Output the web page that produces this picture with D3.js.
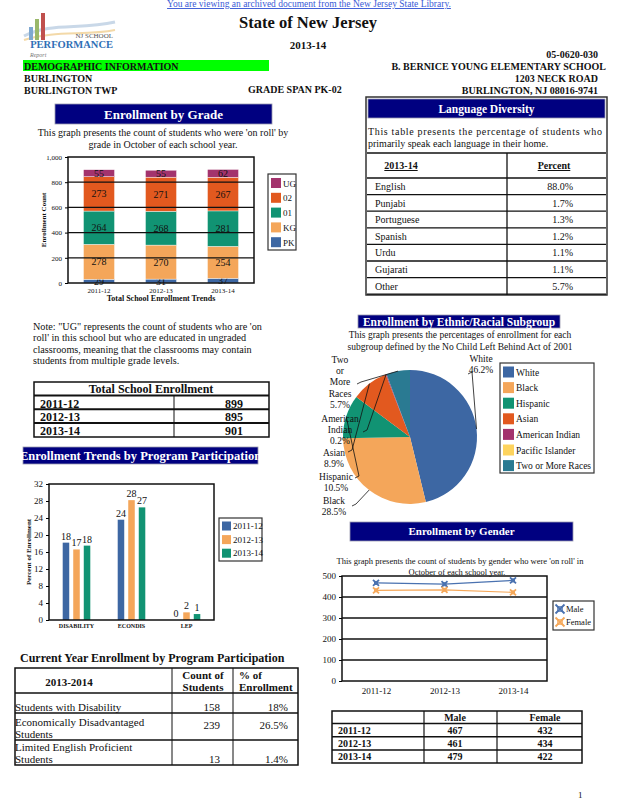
<!DOCTYPE html>
<html><head><meta charset="utf-8">
<script src="https://cdn.jsdelivr.net/npm/d3@7"></script>
<style>
body{margin:0;background:#fff}
svg{display:block}
text{font-family:"Liberation Serif","Times New Roman",serif;fill:#111}
</style></head>
<body><svg id="c" width="618" height="800"></svg>
<script>
// ---------- DATA ----------
const years = ["2011-12","2012-13","2013-14"];
const gradeKeys = ["PK","KG","01","02","UG"];
const gradePK = [29,31,37];
const gradeKG = [278,270,254];
const grade01 = [264,268,281];
const grade02 = [273,271,267];
const gradeUG = [55,55,62];
const gradeTicks = [0,200,400,600,800,1000];

const languages = ["English","Punjabi","Portuguese","Spanish","Urdu","Gujarati","Other"];
const languagePct = ["88.0%","1.7%","1.3%","1.2%","1.1%","1.1%","5.7%"];

const totalEnrollment = [899,895,901];

const programCats = ["DISABILITY","ECONDIS","LEP"];
const program2011 = [18.2,23.6,0];
const program2012 = [16.6,28.2,1.8];
const program2013 = [17.5,26.5,1.4];
const programTicks = [0,4,8,12,16,20,24,28,32];

const currentRows = ["Students with Disability","Economically Disadvantaged Students","Limited English Proficient Students"];
const currentCount = [158,239,13];
const currentPct = ["18%","26.5%","1.4%"];

const ethnicGroups = ["White","Black","Hispanic","Asian","American Indian","Pacific Islander","Two or More Races"];
const ethnicPct = [46.2,28.5,10.5,8.9,0.2,0,5.7];

const genderMale = [467,461,479];
const genderFemale = [432,434,422];
const genderTicks = [0,100,200,300,400,500];

// ---------- HELPERS ----------
const svg = d3.select("#c");
const SERIF = "Liberation Serif";
function txt(x,y,s,o={}){
  const t = svg.append("text").attr("x",x).attr("y",y).text(s)
    .attr("font-size",o.size||10).attr("text-anchor",o.anchor||"start")
    .attr("font-family",o.family||SERIF);
  if(o.bold) t.attr("font-weight","bold");
  if(o.fill) t.style("fill",o.fill);
  if(o.deco) t.attr("text-decoration",o.deco);
  if(o.italic) t.attr("font-style","italic");
  if(o.len) t.attr("textLength",o.len).attr("lengthAdjust","spacing");
  return t;
}
function banner(x,y,w,h,title,size){
  svg.append("rect").attr("x",x).attr("y",y).attr("width",w).attr("height",h)
    .attr("fill","#000080").attr("stroke","#9a9ab0").attr("stroke-width",0.8);
  txt(x+w/2,y+h/2+size*0.36,title,{size:size,bold:true,anchor:"middle",fill:"#fff"});
}
function line(x1,y1,x2,y2,w=1,c="#111"){
  svg.append("line").attr("x1",x1).attr("y1",y1).attr("x2",x2).attr("y2",y2)
    .attr("stroke",c).attr("stroke-width",w);
}

// ---------- HEADER ----------
txt(309,7,"You are viewing an archived document from the New Jersey State Library.",{size:9.5,anchor:"middle",fill:"#3a5ad6",deco:"underline",family:"Liberation Sans"});
// logo
const logo = svg.append("g");
logo.append("path").attr("d","M24,36 C50,22 80,30 115,22").attr("fill","none").attr("stroke","#c9d8e8").attr("stroke-width",3);
logo.append("path").attr("d","M24,40 C55,30 85,36 115,30").attr("fill","none").attr("stroke","#f3d9a8").attr("stroke-width",2);
logo.append("rect").attr("x",29).attr("y",27).attr("width",4).attr("height",13).attr("fill","#7fa8d0");
logo.append("rect").attr("x",35).attr("y",19).attr("width",4).attr("height",21).attr("fill","#9ab86a");
logo.append("rect").attr("x",41).attr("y",13).attr("width",4).attr("height",27).attr("fill","#c0504d");
txt(113,38,"NJ SCHOOL",{size:7,anchor:"end",fill:"#555",family:"Liberation Sans"});
txt(113,48,"PERFORMANCE",{size:10.5,anchor:"end",bold:true,fill:"#2f6fb6",family:"Liberation Sans"});
txt(30,57,"Report",{size:6,italic:true,fill:"#777"});

txt(308,28,"State of New Jersey",{size:16.5,bold:true,anchor:"middle"});
txt(308,49,"2013-14",{size:11,bold:true,anchor:"middle"});
txt(598,58,"05-0620-030",{size:10,bold:true,anchor:"end"});
svg.append("rect").attr("x",23).attr("y",60).attr("width",246).attr("height",11).attr("fill","#00ff00");
txt(24,70,"DEMOGRAPHIC INFORMATION",{size:10,bold:true});
txt(606,70,"B. BERNICE YOUNG ELEMENTARY SCHOOL",{size:10,bold:true,anchor:"end"});
txt(24,82,"BURLINGTON",{size:10,bold:true});
txt(598,82,"1203 NECK ROAD",{size:10,bold:true,anchor:"end"});
txt(24,94,"BURLINGTON TWP",{size:10,bold:true});
txt(248,93,"GRADE SPAN PK-02",{size:10,bold:true});
txt(598,94,"BURLINGTON, NJ 08016-9741",{size:10,bold:true,anchor:"end"});

// ---------- ENROLLMENT BY GRADE ----------
banner(55,104,217,20,"Enrollment by Grade",13);
txt(163,136,"This graph presents the count of students who were 'on roll' by",{size:10,anchor:"middle"});
txt(163,148,"grade in October of each school year.",{size:10,anchor:"middle"});
const gradeColors = {PK:"#3d67a3",KG:"#f4a65a","01":"#119373","02":"#e2591f",UG:"#a3336d"};
const gx = d3.scaleBand().domain(years).range([68,254]).paddingInner(0.5).paddingOuter(0.25);
const gy = d3.scaleLinear().domain([0,1000]).range([283,157]);
const gradeRows = years.map((y,i)=>({year:y,PK:gradePK[i],KG:gradeKG[i],"01":grade01[i],"02":grade02[i],UG:gradeUG[i]}));
const stacked = d3.stack().keys(gradeKeys)(gradeRows);
const gg = svg.append("g");
gradeTicks.slice(1,-1).forEach(t=>line(68,gy(t),254,gy(t),1.3));
stacked.forEach(layer=>{
  gg.selectAll(null).data(layer).enter().append("rect")
    .attr("x",d=>gx(d.data.year)).attr("width",gx.bandwidth())
    .attr("y",d=>gy(d[1])).attr("height",d=>gy(d[0])-gy(d[1]))
    .attr("fill",gradeColors[layer.key]).attr("stroke","#fff").attr("stroke-width",0.4);
  gg.selectAll(null).data(layer).enter().append("text")
    .attr("x",d=>gx(d.data.year)+gx.bandwidth()/2).attr("y",d=>(gy(d[0])+gy(d[1]))/2+3.5)
    .attr("text-anchor","middle").attr("font-size",10).attr("font-family",SERIF).text(d=>d[1]-d[0]);
});
svg.append("rect").attr("x",68).attr("y",157).attr("width",186).attr("height",126).attr("fill","none").attr("stroke","#111").attr("stroke-width",1.5);
const gAxis = svg.append("g").attr("transform","translate(68,0)")
  .call(d3.axisLeft(gy).tickValues(gradeTicks).tickSize(3));
gAxis.select(".domain").remove();
gAxis.selectAll("text").attr("font-size",7).attr("font-family",SERIF);
const gxAxis = svg.append("g").attr("transform","translate(0,283)")
  .call(d3.axisBottom(gx).tickSize(0).tickPadding(5));
gxAxis.select(".domain").remove();
gxAxis.selectAll("text").attr("font-size",7).attr("font-family",SERIF);
txt(161,301,"Total School Enrollment Trends",{size:8,bold:true,anchor:"middle"});
txt(0,0,"Enrollment Count",{size:7,bold:true,anchor:"middle"}).attr("transform","translate(46,220) rotate(-90)");
// legend
svg.append("rect").attr("x",268).attr("y",174).attr("width",28).attr("height",76).attr("fill","#fff").attr("stroke","#333").attr("stroke-width",1.2);
gradeKeys.slice().reverse().forEach((k,i)=>{
  const cy = 183+i*14.8;
  svg.append("rect").attr("x",271).attr("y",cy-5).attr("width",10).attr("height",10).attr("fill",gradeColors[k]);
  txt(283,cy+3.5,k,{size:9});
});

// ---------- LANGUAGE DIVERSITY ----------
svg.append("rect").attr("x",366).attr("y",97).attr("width",241).attr("height",198).attr("fill","#fff").attr("stroke","#333").attr("stroke-width",1.5);
banner(368,99,237,19,"Language Diversity",11.5);
txt(368,135,"This table presents the percentage of students who",{size:10,len:234});
txt(368,147,"primarily speak each language in their home.",{size:10});
line(367,153,606,153,1.3);
line(507,153,507,295,1.3);
txt(401,169,"2013-14",{size:10,bold:true,anchor:"middle",deco:"underline"});
txt(554,169,"Percent",{size:10,bold:true,anchor:"middle",deco:"underline"});
const langRowTop = 178, langRowH = 16.6;
line(367,langRowTop,606,langRowTop,1.5);
languages.forEach((l,i)=>{
  const y0 = langRowTop+i*langRowH;
  txt(375,y0+12,l,{size:10});
  txt(573,y0+12,languagePct[i],{size:10,anchor:"end"});
  line(367,y0+langRowH,606,y0+langRowH,1.3);
});

// ---------- NOTE + TOTAL ENROLLMENT ----------
["Note: \"UG\" represents the count of students who are 'on","roll' in this school but who are educated in ungraded","classrooms, meaning that the classrooms may contain","students from multiple grade levels."]
  .forEach((s,i)=>txt(33,330+i*11.3,s,{size:10.2}));
svg.append("rect").attr("x",34).attr("y",382).attr("width",235).attr("height",55).attr("fill","none").attr("stroke","#111").attr("stroke-width",1.5);
txt(151,393,"Total School Enrollment",{size:12,bold:true,anchor:"middle"});
line(34,395.5,269,395.5,2);
years.forEach((y,i)=>{
  const y0 = 395.5+i*13.8;
  txt(40,y0+12,y,{size:12,bold:true});
  txt(243,y0+12,totalEnrollment[i],{size:12,bold:true,anchor:"end"});
  if(i<2) line(34,y0+13.8,269,y0+13.8,2);
});
line(174,395.5,174,437,1);

// ---------- PROGRAM PARTICIPATION CHART ----------
banner(23,447,235,17,"Enrollment Trends by Program Participation",12.5);
const progColors = {"2011-12":"#3d67a3","2012-13":"#f4a65a","2013-14":"#119373"};
const px = d3.scaleBand().domain(programCats).range([49,214]).paddingInner(0.46).paddingOuter(0.23);
const pxi = d3.scaleBand().domain(years).range([0,px.bandwidth()]).paddingInner(0.38).paddingOuter(0.1);
const py = d3.scaleLinear().domain([0,32]).range([620,484]);
const progRows = programCats.map((c,i)=>({cat:c,vals:[program2011[i],program2012[i],program2013[i]]}));
const pg = svg.append("g");
progRows.forEach(r=>{
  r.vals.forEach((v,j)=>{
    const x = px(r.cat)+pxi(years[j]);
    pg.append("rect").attr("x",x).attr("width",pxi.bandwidth()).attr("y",py(v)).attr("height",py(0)-py(v)).attr("fill",progColors[years[j]]);
    pg.append("text").attr("x",x+pxi.bandwidth()/2).attr("y",py(v)-3).attr("text-anchor","middle").attr("font-size",10).attr("font-family",SERIF).text(Math.round(v));
  });
});
svg.append("rect").attr("x",49).attr("y",484).attr("width",165).attr("height",136).attr("fill","none").attr("stroke","#111").attr("stroke-width",1.5);
const pAxis = svg.append("g").attr("transform","translate(49,0)").call(d3.axisLeft(py).tickValues(programTicks).tickSize(3));
pAxis.select(".domain").remove();
pAxis.selectAll("text").attr("font-size",9).attr("font-family",SERIF);
const pxAxis = svg.append("g").attr("transform","translate(0,620)").call(d3.axisBottom(px).tickSize(0).tickPadding(4));
pxAxis.select(".domain").remove();
pxAxis.selectAll("text").attr("font-size",6).attr("font-weight","bold").attr("font-family",SERIF);
txt(0,0,"Percent of Enrollment",{size:7,bold:true,anchor:"middle"}).attr("transform","translate(31,552) rotate(-90)");
svg.append("rect").attr("x",219).attr("y",518).attr("width",43).attr("height",43).attr("fill","#fff").attr("stroke","#333").attr("stroke-width",1.2);
years.forEach((y,i)=>{
  const cy = 526+i*13.6;
  svg.append("rect").attr("x",222).attr("y",cy-4.5).attr("width",9).attr("height",9).attr("fill",progColors[y]);
  txt(233,cy+3.2,y,{size:9});
});

// ---------- CURRENT YEAR TABLE ----------
txt(20,662,"Current Year Enrollment by Program Participation",{size:12,bold:true});
svg.append("rect").attr("x",15).attr("y",668).attr("width",283).attr("height",97).attr("fill","none").attr("stroke","#111").attr("stroke-width",1.5);
line(172,668,172,765,1); line(233,668,233,765,1);
txt(69,686,"2013-2014",{size:11,bold:true,anchor:"middle"});
txt(203,679,"Count of",{size:11,bold:true,anchor:"middle"});
txt(203,691,"Students",{size:11,bold:true,anchor:"middle"});
txt(239,679,"% of",{size:11,bold:true});
txt(239,691,"Enrollment",{size:11,bold:true});
const curRowTops = [693,713,740];
const curRowBottoms = [713,740,765];
curRowTops.forEach((t,i)=>line(15,t,298,t,1.3));
currentRows.forEach((r,i)=>{
  const words = r.split(" ");
  let lines = i===0 ? [r] : [words.slice(0,-1).join(" "), words[words.length-1]];
  const base = curRowBottoms[i]-2;
  lines.slice().reverse().forEach((l,k)=>txt(15,base-k*12,l,{size:11}));
  const vy = i===0 ? base : (i===1 ? base-9 : base);
  txt(220,vy,currentCount[i],{size:11,anchor:"end"});
  txt(288,vy,currentPct[i],{size:11,anchor:"end"});
});

// ---------- ETHNIC PIE ----------
banner(358,315,202,13,"Enrollment by Ethnic/Racial Subgroup",11.5);
txt(460,338,"This graph presents the percentages of enrollment for each",{size:9.5,anchor:"middle"});
txt(460,350,"subgroup defined by the No Child Left Behind Act of 2001",{size:9.5,anchor:"middle"});
const ethColors = ["#3d67a3","#f4a65a","#119373","#e2591f","#a3336d","#fdd35d","#2a7a92"];
const ethData = ethnicGroups.map((g,i)=>({name:g,v:ethnicPct[i],color:ethColors[i]}));
const pie = d3.pie().sort(null).value(d=>d.v);
const R = 67, cx = 410, cyP = 437;
const arc = d3.arc().innerRadius(0).outerRadius(R);
const arcs = pie(ethData);
const pieG = svg.append("g").attr("transform",`translate(${cx},${cyP})`);
pieG.selectAll("path").data(arcs).enter().append("path").attr("d",arc).attr("fill",d=>d.data.color);
// labels (layout positions)
const labelLayout = {
  "White":{x:481,y:362,lx:468,ly:374},
  "Two or More Races":{x:340,y:363,lx:357,ly:384},
  "American Indian":{x:340,y:422,lx:363,ly:432},
  "Asian":{x:334,y:456,lx:348,ly:452},
  "Hispanic":{x:336,y:480,lx:355,ly:478},
  "Black":{x:334,y:504,lx:352,ly:506}
};
arcs.forEach(a=>{
  const L = labelLayout[a.data.name];
  if(!L || a.data.v<=0) return;
  const lines = a.data.name.split(" ").concat([a.data.v.toFixed(1)+"%"]);
  lines.forEach((s,k)=>txt(L.x,L.y+k*11.2,s,{size:9.5,anchor:"middle"}));
  const mid = (a.startAngle+a.endAngle)/2;
  const ex = cx+Math.sin(mid)*R, ey = cyP-Math.cos(mid)*R;
  svg.append("polyline").attr("points",`${L.lx},${L.ly} ${L.lx+4},${L.ly-2} ${ex},${ey}`)
    .attr("fill","none").attr("stroke","#111").attr("stroke-width",0.8);
});
svg.append("rect").attr("x",500).attr("y",363).attr("width",94).attr("height",110).attr("fill","#fff").attr("stroke","#333").attr("stroke-width",1.2);
ethData.forEach((d,i)=>{
  const cy = 372+i*15.6;
  svg.append("rect").attr("x",503).attr("y",cy-5.5).attr("width",11).attr("height",11).attr("fill",d.color);
  txt(516,cy+3.5,d.name,{size:9.5});
});

// ---------- GENDER ----------
banner(350,522,223,19,"Enrollment by Gender",11);
txt(460,564,"This graph presents the count of students by gender who were 'on roll' in",{size:8.5,anchor:"middle"});
txt(457,575,"October of each school year.",{size:8.5,anchor:"middle"});
const xg = d3.scalePoint().domain(years).range([376,513]);
const yg = d3.scaleLinear().domain([0,500]).range([681,576]);
genderTicks.slice(1,-1).forEach(t=>line(342,yg(t),547,yg(t),1.3));
svg.append("rect").attr("x",342).attr("y",576).attr("width",205).attr("height",105).attr("fill","none").attr("stroke","#111").attr("stroke-width",1.5);
const gyAxis = svg.append("g").attr("transform","translate(342,0)").call(d3.axisLeft(yg).tickValues(genderTicks).tickSize(3));
gyAxis.select(".domain").remove();
gyAxis.selectAll("text").attr("font-size",9).attr("font-family",SERIF);
const gxA = svg.append("g").attr("transform","translate(0,681)").call(d3.axisBottom(xg).tickSize(0).tickPadding(7));
gxA.select(".domain").remove();
gxA.selectAll("text").attr("font-size",9).attr("font-family",SERIF);
const genderSeries = [{name:"Male",vals:genderMale,color:"#4a72b0"},{name:"Female",vals:genderFemale,color:"#f5a85a"}];
const lineGen = d3.line().x((d,i)=>xg(years[i])).y(d=>yg(d));
function marker(g,x,y,c,s){
  g.append("path").attr("d",`M${x-s},${y-s}L${x+s},${y+s}M${x-s},${y+s}L${x+s},${y-s}`).attr("stroke",c).attr("stroke-width",1.8);
  g.append("rect").attr("x",x-s*0.5).attr("y",y-s*0.5).attr("width",s).attr("height",s).attr("fill","none").attr("stroke",c).attr("stroke-width",1);
}
genderSeries.forEach(s=>{
  svg.append("path").attr("d",lineGen(s.vals)).attr("fill","none").attr("stroke",s.color).attr("stroke-width",1.2);
  s.vals.forEach((v,i)=>marker(svg,xg(years[i]),yg(v),s.color,3));
});
svg.append("rect").attr("x",553).attr("y",601).attr("width",41).attr("height",29).attr("fill","#fff").attr("stroke","#333").attr("stroke-width",1.2);
genderSeries.forEach((s,i)=>{
  const cy = 609+i*13;
  marker(svg,560,cy,s.color,4.5);
  txt(566,cy+3,s.name,{size:8.5});
});

// gender table
svg.append("rect").attr("x",332).attr("y",711).attr("width",250).attr("height",52).attr("fill","none").attr("stroke","#111").attr("stroke-width",1.5);
line(424,711,424,763,1.2); line(497,711,497,763,1.2);
txt(455,721,"Male",{size:10,bold:true,anchor:"middle"});
txt(545,721,"Female",{size:10,bold:true,anchor:"middle"});
years.forEach((y,i)=>{
  const t = 723.5+i*13.2;
  line(332,t,582,t,1.5);
  txt(338,t+10.5,y,{size:10,bold:true});
  txt(455,t+10.5,genderMale[i],{size:10,bold:true,anchor:"middle"});
  txt(545,t+10.5,genderFemale[i],{size:10,bold:true,anchor:"middle"});
});

txt(578,798,"1",{size:9});
</script></body></html>
